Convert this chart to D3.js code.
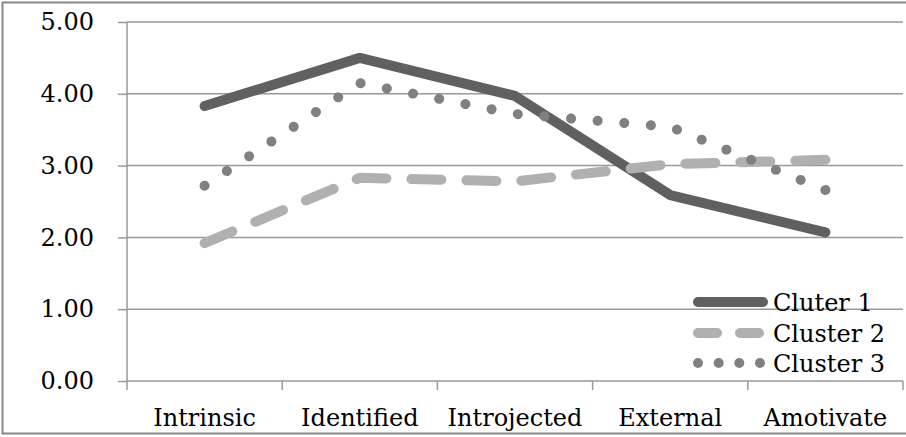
<!DOCTYPE html>
<html><head><meta charset="utf-8">
<script src="https://cdn.jsdelivr.net/npm/d3@7"></script>
<style>body{margin:0;background:#fff}svg{display:block}text{font-family:"DejaVu Serif",serif;fill:#000}</style>
</head><body><svg id="c" width="906" height="437"></svg>
<script>
const categories = ["Intrinsic","Identified","Introjected","External","Amotivate"];
const cluster1 = [3.83, 4.50, 3.97, 2.59, 2.07];
const cluster2 = [1.92, 2.83, 2.78, 3.02, 3.08];
const cluster3 = [2.72, 4.15, 3.72, 3.54, 2.66];
const seriesNames = ["Cluter 1","Cluster 2","Cluster 3"];
const yTicks = [0,1,2,3,4,5];

const FS = 24;
const svg = d3.select("#c");
const m = {l:127, r:903, t:22, b:381};
svg.append("rect").attr("x",2.5).attr("y",2.5).attr("width",906).attr("height",431)
  .attr("fill","#fff").attr("stroke","#888").attr("stroke-width",2);

const x = d3.scaleBand().domain(categories).range([m.l, m.r]);
const y = d3.scaleLinear().domain([0,5]).range([m.b, m.t]);

svg.append("g").selectAll("line").data(yTicks.filter(d=>d>0)).join("line")
  .attr("x1",m.l).attr("x2",m.r).attr("y1",d=>y(d)).attr("y2",d=>y(d))
  .attr("stroke","#999").attr("stroke-width",1.5);

const ya = svg.append("g").attr("transform",`translate(${m.l},0)`)
  .call(d3.axisLeft(y).tickValues(yTicks).tickFormat(d3.format(".2f")).tickSize(9).tickPadding(24));
ya.select(".domain").attr("stroke","#999").attr("stroke-width",1.5).attr("d",`M0,${m.t}V${m.b}`);
ya.selectAll(".tick line").attr("stroke","#999").attr("stroke-width",1.5);
ya.selectAll(".tick text").attr("font-size",FS).attr("font-family","DejaVu Serif").attr("fill","#000");

const xa = svg.append("g").attr("transform",`translate(0,${m.b})`)
  .call(d3.axisBottom(x).tickSize(0).tickPadding(28));
xa.select(".domain").attr("stroke","#999").attr("stroke-width",1.5).attr("d",`M${m.l},0H${m.r}`);
xa.selectAll(".tick text").attr("font-size",FS).attr("font-family","DejaVu Serif").attr("fill","#000");
const bounds = categories.map(c=>x(c)).concat([m.r]);
xa.append("g").selectAll("line").data(bounds).join("line")
  .attr("x1",d=>d).attr("x2",d=>d).attr("y1",0).attr("y2",9)
  .attr("stroke","#999").attr("stroke-width",1.5);

const line = d3.line().x((d,i)=>x(categories[i])+x.bandwidth()/2).y(d=>y(d));
const styles = [
  {data:cluster1, color:"#606060", type:"solid"},
  {data:cluster2, color:"#b0b0b0", type:"dash"},
  {data:cluster3, color:"#808080", type:"dot"}
];
const SW = 10;
styles.forEach(s=>{
  const p = svg.append("path").attr("d",line(s.data)).attr("fill","none")
    .attr("stroke",s.color).attr("stroke-width",SW)
    .attr("stroke-linecap","round").attr("stroke-linejoin","round");
  const L = p.node().getTotalLength();
  if(s.type==="dot"){
    const n = Math.round(L/27);
    const sp = (L-0.05)/n;
    p.attr("stroke-dasharray",`0.01 ${sp-0.01}`);
  } else if(s.type==="dash"){
    const g = 25, n = Math.round((L+g)/53);
    const per = (L-0.05+g)/n;
    p.attr("stroke-dasharray",`${per-g} ${g}`);
  }
});

const ly = [302,333,363];
const legendDash = ["none","19 23","0.01 20.65"];
styles.forEach((s,i)=>{
  const x1 = 698, x2 = i===0?763:(i===1?761:761);
  svg.append("path").attr("d",`M${x1},${ly[i]}H${x2}`)
    .attr("stroke",s.color).attr("stroke-width",SW).attr("stroke-linecap","round")
    .attr("stroke-dasharray",legendDash[i]).attr("fill","none");
  svg.append("text").attr("x",773).attr("y",ly[i]).attr("dy","0.36em")
    .attr("font-size",FS).text(seriesNames[i]);
});
</script></body></html>
